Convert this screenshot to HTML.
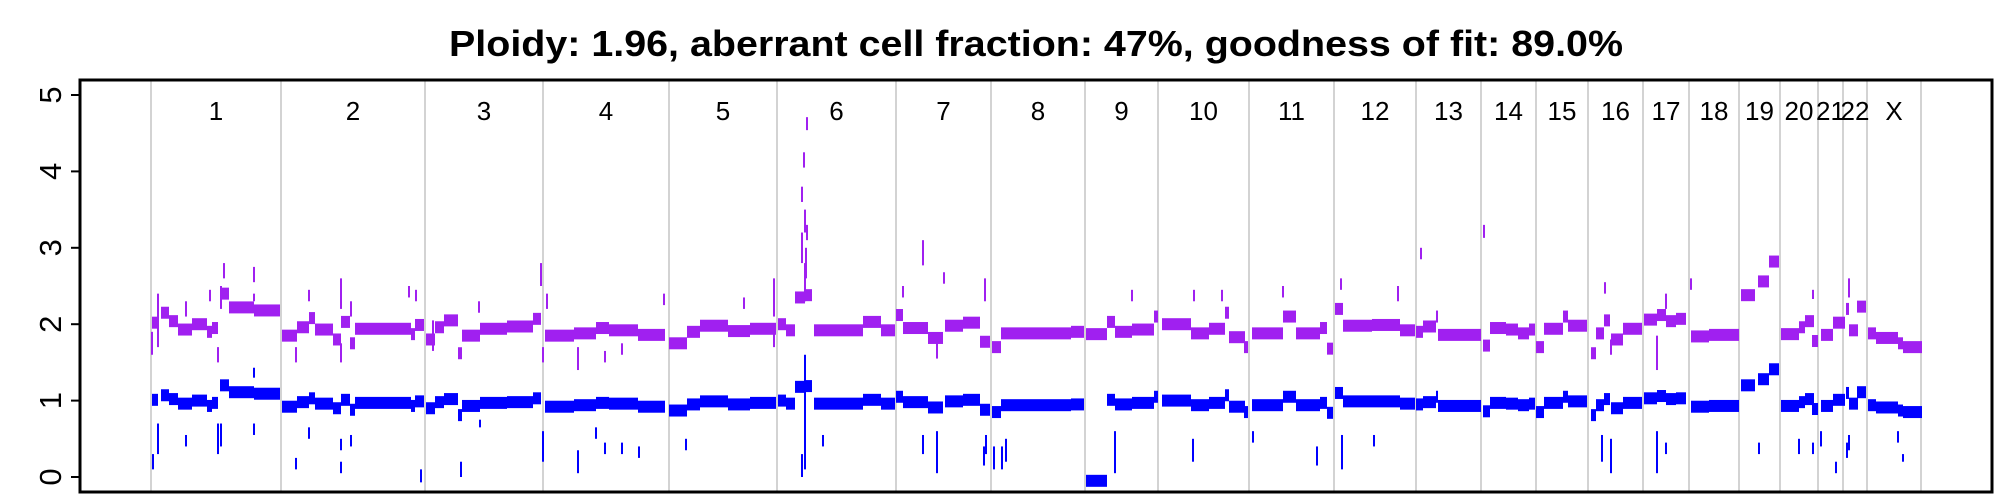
<!DOCTYPE html>
<html><head><meta charset="utf-8"><style>
html,body{margin:0;padding:0;background:#fff;}
svg{display:block;font-family:"Liberation Sans",Arial,sans-serif;}
</style></head><body>
<svg id="chart" width="2000" height="500" viewBox="0 0 2000 500">
<text x="1036" y="56" text-anchor="middle" font-size="36" font-weight="bold" textLength="1174" lengthAdjust="spacingAndGlyphs">Ploidy: 1.96, aberrant cell fraction: 47%, goodness of fit: 89.0%</text>
<g id="grid"></g><g id="marks"></g><g id="axes"></g>
</svg>
<script>
// chromosome names and boundaries (genome position units)
const chromNames = ["1","2","3","4","5","6","7","8","9","10","11","12","13","14","15","16","17","18","19","20","21","22","X"];
const chromBounds = [151,281,425,543,669,777,896,991,1085,1158,1249,1334,1416,1481,1536,1588,1643,1689,1739,1780,1818,1843,1867,1921];
const yTicks = [0,1,2,3,4,5];
// segments: start, end, total copy number (purple), minor copy number (blue)
const segStart = [152,161,169,178,192,207,212,220,229,254,
 282,297,309,315,333,341,350,355,411,415,
 426,435,444,458,462,480,507,533,
 545,574,596,609,638,
 669,687,700,728,750,
 778,786,795,805,814,863,881,
 896,903,921,928,945,963,980,
 992,1001,1019,1071,
 1086,1107,1115,1132,1154,
 1162,1191,1209,1225,1229,1244,
 1252,1283,1296,1320,1327,
 1335,1343,1372,1400,
 1416,1423,1436,1438,
 1483,1490,1506,1518,1529,
 1536,1544,1563,1568,
 1591,1596,1604,1611,1623,
 1644,1657,1666,1676,
 1691,1709,
 1741,1758,1769,
 1781,1799,1805,1812,
 1821,1833,
 1846,1849,1857,
 1868,1876,1898,1903];
const segEnd = [158,169,178,192,207,212,218,229,254,280,
 297,309,315,333,341,350,355,411,415,424,
 435,444,458,462,480,507,533,541,
 574,596,609,638,665,
 687,700,728,750,776,
 786,795,805,812,863,881,895,
 903,921,928,943,963,980,990,
 1001,1019,1071,1084,
 1107,1115,1132,1154,1158,
 1191,1209,1225,1229,1245,1248,
 1283,1296,1320,1327,1333,
 1343,1372,1400,1415,
 1423,1436,1438,1481,
 1490,1506,1518,1529,1535,
 1544,1563,1568,1587,
 1596,1604,1610,1623,1642,
 1657,1666,1676,1686,
 1709,1739,
 1755,1769,1779,
 1799,1805,1814,1818,
 1833,1845,
 1849,1858,1866,
 1876,1898,1903,1922];
const cnTotal = [2.02,2.15,2.04,1.93,2.0,1.9,1.95,2.4,2.22,2.18,
 1.85,1.96,2.08,1.93,1.8,2.03,1.75,1.94,1.87,1.99,
 1.8,1.96,2.05,1.62,1.85,1.94,1.97,2.07,
 1.85,1.88,1.95,1.92,1.86,
 1.75,1.9,1.98,1.91,1.94,
 2.0,1.92,2.35,2.38,1.92,2.03,1.92,
 2.12,1.95,1.95,1.82,1.98,2.02,1.77,
 1.7,1.88,1.88,1.9,
 1.87,2.03,1.9,1.93,2.1,
 2.0,1.88,1.94,2.15,1.83,1.7,
 1.88,2.1,1.88,1.95,1.68,
 2.2,1.98,1.99,1.92,
 1.9,1.97,2.1,1.86,
 1.72,1.95,1.93,1.88,1.93,
 1.7,1.94,2.1,1.98,
 1.62,1.88,2.05,1.8,1.94,
 2.06,2.12,2.04,2.07,
 1.84,1.86,
 2.38,2.56,2.82,
 1.87,1.96,2.04,1.78,
 1.86,2.02,
 2.2,1.92,2.23,
 1.88,1.82,1.75,1.7];
const cnMinor = [1.01,1.07,1.02,0.96,1.0,0.93,0.97,1.2,1.11,1.09,
 0.92,0.98,1.03,0.96,0.9,1.01,0.88,0.97,0.93,0.99,
 0.9,0.98,1.02,0.81,0.93,0.97,0.98,1.03,
 0.92,0.94,0.97,0.96,0.92,
 0.87,0.95,0.99,0.95,0.97,
 1.0,0.96,1.18,1.19,0.96,1.01,0.96,
 1.05,0.98,0.98,0.91,0.99,1.01,0.88,
 0.85,0.94,0.94,0.95,
 -0.05,1.01,0.95,0.97,1.05,
 1.0,0.94,0.97,1.07,0.92,0.85,
 0.94,1.05,0.94,0.97,0.84,
 1.1,0.99,0.99,0.96,
 0.95,0.98,1.05,0.93,
 0.86,0.97,0.96,0.94,0.96,
 0.85,0.97,1.05,0.99,
 0.81,0.94,1.02,0.9,0.97,
 1.03,1.06,1.02,1.03,
 0.92,0.93,
 1.2,1.28,1.41,
 0.93,0.98,1.02,0.89,
 0.93,1.01,
 1.1,0.96,1.11,
 0.94,0.91,0.87,0.85];
// outlier spikes: position, low, high
const spikeTotPos = [152,158,186,210,218,224,221,254,254,309,296,341,351,341,409,416,433,479,541,547,543,578,605,622,664,744,774,774,807,804,802,805,807,802,806,805,923,944,903,937,985,1132,1194,1222,1283,1341,1398,1421,1484,1605,1611,1666,1657,1691,1849,1813];
const spikeTotLo = [1.6,1.7,2.1,2.3,1.5,2.6,2.2,2.55,2.3,2.3,1.5,2.2,2.1,1.5,2.35,2.3,1.65,2.15,2.5,2.2,1.5,1.4,1.5,1.6,2.25,2.2,2.1,1.7,4.54,4.05,3.6,3.2,3.1,2.8,2.6,2.3,2.77,2.53,2.35,1.55,2.3,2.3,2.3,2.3,2.35,2.45,2.3,2.85,3.13,2.4,1.6,2.2,1.4,2.45,2.35,2.33];
const spikeTotHi = [1.9,2.4,2.3,2.45,1.7,2.8,2.5,2.75,2.4,2.45,1.7,2.6,2.3,1.75,2.5,2.45,2.05,2.3,2.8,2.4,1.7,1.7,1.65,1.75,2.4,2.35,2.6,2.0,4.71,4.25,3.8,3.5,3.3,3.2,3.0,2.8,3.1,2.68,2.5,1.75,2.6,2.45,2.45,2.45,2.5,2.6,2.5,3.0,3.3,2.55,1.8,2.4,1.85,2.6,2.6,2.45];
const spikeMinPos = [158,153,186,218,221,254,254,296,309,341,341,351,461,480,421,543,578,596,605,622,639,686,802,805,823,923,937,984,986,994,1002,1006,1115,1193,1253,1317,1342,1374,1602,1611,1657,1666,1759,1799,1813,1836,1821,1849,1847,1898,1903];
const spikeMinLo = [0.3,0.1,0.4,0.3,0.4,0.55,1.3,0.1,0.5,0.05,0.35,0.4,0.0,0.65,-0.07,0.2,0.05,0.5,0.3,0.3,0.25,0.35,0.0,0.1,0.4,0.3,0.05,0.15,0.3,0.1,0.1,0.2,0.05,0.2,0.45,0.15,0.1,0.4,0.2,0.05,0.05,0.3,0.3,0.3,0.3,0.05,0.4,0.35,0.25,0.45,0.2];
const spikeMinHi = [0.7,0.3,0.55,0.7,0.7,0.7,1.43,0.25,0.65,0.2,0.5,0.55,0.2,0.75,0.1,0.6,0.35,0.65,0.45,0.45,0.4,0.5,0.3,1.6,0.55,0.55,0.6,0.4,0.55,0.4,0.4,0.5,0.6,0.5,0.6,0.4,0.55,0.55,0.55,0.5,0.6,0.45,0.45,0.5,0.45,0.2,0.6,0.55,0.45,0.6,0.3];

const NS = "http://www.w3.org/2000/svg";
const X0 = 80, X1 = 1992, D0 = 80, D1 = 1992;
const xs = u => X0 + (u - D0) * (X1 - X0) / (D1 - D0);
const ys = v => 477 - 76.4 * v;
const grid = document.getElementById('grid');
const marks = document.getElementById('marks');
const axes = document.getElementById('axes');
function mk(tag, attrs, parent) {
  const e = document.createElementNS(NS, tag);
  for (const k in attrs) e.setAttribute(k, attrs[k]);
  parent.appendChild(e);
  return e;
}
chromBounds.forEach(b => {
  const l = mk('line', {x1: xs(b), x2: xs(b), y1: 80, y2: 492, stroke: '#d3d3d3', 'stroke-width': 2}, grid);
  
  
});
chromNames.forEach((n, i) => {
  const cx = (xs(chromBounds[i]) + xs(chromBounds[i + 1])) / 2;
  const t = mk('text', {x: cx, y: 120, 'text-anchor': 'middle', 'font-size': 26}, grid);
  t.textContent = n;
  
  
});
const H = 12;
for (let i = 0; i < segStart.length; i++) {
  const x = xs(segStart[i]), w = xs(segEnd[i]) - x;
  const r1 = mk('rect', {x: x, y: ys(cnTotal[i]) - H / 2, width: w, height: H, fill: '#a020f0'}, marks);
  
  
  const r2 = mk('rect', {x: x, y: ys(cnMinor[i]) - H / 2, width: w, height: H, fill: '#0000ff'}, marks);
  
  
}
for (let i = 0; i < spikeTotPos.length; i++) {
  const r = mk('rect', {x: xs(spikeTotPos[i]) - 1, y: ys(spikeTotHi[i]), width: 2, height: ys(spikeTotLo[i]) - ys(spikeTotHi[i]), fill: '#a020f0'}, marks);
  
  
}
for (let i = 0; i < spikeMinPos.length; i++) {
  const r = mk('rect', {x: xs(spikeMinPos[i]) - 1, y: ys(spikeMinHi[i]), width: 2, height: ys(spikeMinLo[i]) - ys(spikeMinHi[i]), fill: '#0000ff'}, marks);
  
  
}
const box = mk('rect', {x: 80, y: 80, width: 1912, height: 412, fill: 'none', stroke: '#000', 'stroke-width': 3}, axes);


yTicks.forEach(v => {
  const tk = mk('line', {x1: 71, x2: 80, y1: ys(v), y2: ys(v), stroke: '#000', 'stroke-width': 2}, axes);
  
  
  const t = mk('text', {x: 0, y: 0, 'text-anchor': 'middle', 'font-size': 31, transform: 'translate(61,' + ys(v) + ') rotate(-90)'}, axes);
  t.textContent = v;
  
  
});
</script>
</body></html>
